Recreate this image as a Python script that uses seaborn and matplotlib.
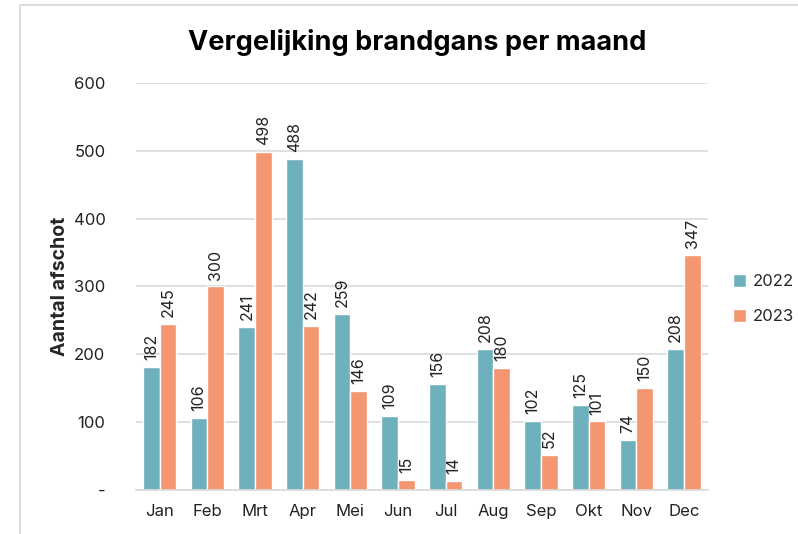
import pandas as pd
import matplotlib.pyplot as plt
import seaborn as sbn
from matplotlib.patches import Rectangle, Patch

MONTHS = ['Jan', 'Feb', 'Mrt', 'Apr', 'Mei', 'Jun', 'Jul', 'Aug', 'Sep', 'Okt', 'Nov', 'Dec']
YEARS = ['2022', '2023']
COUNTS_2022 = [182, 106, 241, 488, 259, 109, 156, 208, 102, 125, 74, 208]
COUNTS_2023 = [245, 300, 498, 242, 146, 15, 14, 180, 52, 101, 150, 347]
Y_TICKS = [0, 100, 200, 300, 400, 500, 600]
Y_TICK_LABELS = ['-', '100', '200', '300', '400', '500', '600']
COLORS = ['#6fb0be', '#f4966f']

df = pd.DataFrame({
    'maand': MONTHS * 2,
    'jaar': [YEARS[0]] * 12 + [YEARS[1]] * 12,
    'aantal': COUNTS_2022 + COUNTS_2023,
})

sbn.set_style('white')
plt.rcParams['font.family'] = ['Inter', 'DejaVu Sans']

fig = plt.figure(figsize=(7.98, 5.34), dpi=100)
ax = fig.add_axes([0.1704, 0.0824, 0.7166, 0.7622])

sbn.barplot(data=df, x='maand', y='aantal', hue='jaar', palette=COLORS, saturation=1,
            width=0.7, edgecolor='white', linewidth=1, ax=ax, legend=False)

for cont in ax.containers:
    ax.bar_label(cont, rotation=90, padding=5, fontsize=11.5, color='#222222')

ax.set_ylim(0, 600)
ax.set_xlim(-0.5, 11.5)
ax.set_yticks(Y_TICKS)
ax.set_yticklabels(Y_TICK_LABELS)
ax.yaxis.grid(True, color='#d9d9d9', linewidth=1.2)
ax.set_axisbelow(True)
for side in ['left', 'right', 'top']:
    ax.spines[side].set_visible(False)
ax.spines['bottom'].set_color('#d9d9d9')
ax.spines['bottom'].set_linewidth(1.2)
ax.tick_params(axis='both', length=0, labelsize=12, colors='#222222')
ax.tick_params(axis='y', pad=22)
ax.tick_params(axis='x', pad=10)
ax.set_xlabel('')
ax.set_ylabel('Aantal afschot', fontsize=14, fontweight='bold', labelpad=3)

fig.text(0.523, 0.921, 'Vergelijking brandgans per maand', ha='center', va='center',
         fontsize=19.5, fontweight='bold', color='black')

handles = [Patch(facecolor=c, label=y) for c, y in zip(COLORS, YEARS)]
fig.legend(handles=handles, loc='center left', bbox_to_anchor=(0.918, 0.44),
           frameon=False, fontsize=12, handlelength=0.8, handleheight=0.8,
           handletextpad=0.4, labelspacing=1.2, borderpad=0, borderaxespad=0)

fig.patches.append(Rectangle((20 / 798, -0.1), 1.2, 1 - 5 / 534 + 0.1, transform=fig.transFigure,
                             fill=False, edgecolor='#dddddd', linewidth=1.5))

fig.savefig('out.png', dpi=100)
